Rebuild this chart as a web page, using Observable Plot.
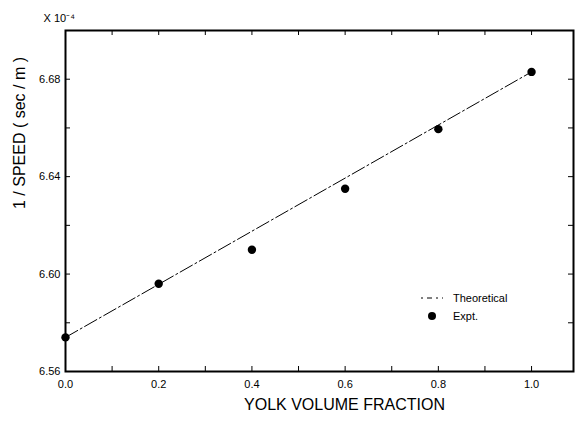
<!DOCTYPE html>
<html>
<head>
<meta charset="utf-8">
<script src="https://cdn.jsdelivr.net/npm/d3@7"></script>
<script src="https://cdn.jsdelivr.net/npm/@observablehq/plot@0.6"></script>
<style>
  html, body { margin: 0; padding: 0; background: #fff; }
  svg { font-family: "Liberation Sans", Arial, sans-serif; }
</style>
</head>
<body>
<div id="chart"></div>
<script>
const exptX = [0.0, 0.2, 0.4, 0.6, 0.8, 1.0];
const exptY = [6.574, 6.596, 6.610, 6.635, 6.6595, 6.683];
// Theoretical line (end points)
const theoX = [0.0, 1.0];
const theoY = [6.574, 6.683];
// Axis domains and ticks
const xDomain = [0, 1.09];
const yDomain = [6.56, 6.70];
const xTicks = [0, 0.1, 0.2, 0.3, 0.4, 0.5, 0.6, 0.7, 0.8, 0.9, 1.0];
const xLabelTicks = [0, 0.2, 0.4, 0.6, 0.8, 1.0];
const yTicks = [6.56, 6.58, 6.60, 6.62, 6.64, 6.66, 6.68, 6.70];
const yLabelTicks = [6.56, 6.60, 6.64, 6.68];
const legendNames = ["Theoretical", "Expt."];

const expt = exptX.map((x, i) => ({x, y: exptY[i]}));
const theo = theoX.map((x, i) => ({x, y: theoY[i]}));
const ink = "#000";

const W = 578, H = 424, mL = 65, mR = 5, mT = 30, mB = 53;
const plotW = W - mL - mR, plotH = H - mT - mB, tk = 5;

const chart = Plot.plot({
  width: W,
  height: H,
  marginLeft: mL,
  marginRight: mR,
  marginTop: mT,
  marginBottom: mB,
  style: {fontFamily: "'Liberation Sans', Arial, sans-serif", color: ink, background: "#fff"},
  x: {domain: xDomain, axis: null},
  y: {domain: yDomain, axis: null},
  marks: [
    // frame
    Plot.frame({stroke: ink, strokeWidth: 2}),
    // inward tick marks on all four sides
    Plot.tickX(xTicks, {x: d => d, insetTop: plotH - tk, stroke: ink}),
    Plot.tickX(xTicks, {x: d => d, insetBottom: plotH - tk, stroke: ink}),
    Plot.tickY(yTicks, {y: d => d, insetRight: plotW - tk, stroke: ink}),
    Plot.tickY(yTicks, {y: d => d, insetLeft: plotW - tk, stroke: ink}),
    // tick labels
    Plot.text(xLabelTicks, {x: d => d, frameAnchor: "bottom", dy: 16, text: d => d.toFixed(1), fontSize: 11, fill: ink}),
    Plot.text(yLabelTicks, {y: d => d, frameAnchor: "left", dx: -5, textAnchor: "end", text: d => d.toFixed(2), fontSize: 11, fill: ink}),
    // axis titles
    Plot.text(["YOLK VOLUME FRACTION"], {frameAnchor: "bottom", dy: 38, dx: 25, fontSize: 16, fill: ink}),
    Plot.text(["1 / SPEED ( sec / m )"], {frameAnchor: "left", rotate: -90, dx: -46, dy: 8, fontSize: 16, fill: ink}),
    Plot.text(["X 10⁻⁴"], {frameAnchor: "top-left", dx: -22, dy: -16, fontSize: 11, fill: ink}),
    // data
    Plot.line(theo, {x: "x", y: "y", stroke: ink, strokeWidth: 1, strokeDasharray: "14,3,2,3"}),
    Plot.dot(expt, {x: "x", y: "y", r: 4.2, fill: ink, stroke: "none"})
  ]
});

// legend (inside plot area)
const svg = d3.select(chart);
const lg = svg.append("g")
  .attr("font-family", "'Liberation Sans', Arial, sans-serif")
  .attr("font-size", 11)
  .attr("text-anchor", "start")
  .attr("fill", ink);
lg.append("line").attr("x1", 421).attr("x2", 443).attr("y1", 298).attr("y2", 298)
  .attr("stroke", ink).attr("stroke-width", 1).attr("stroke-dasharray", "2,4,5,4");
lg.append("text").attr("x", 453).attr("y", 298).attr("dy", "0.35em").attr("text-anchor", "start").text(legendNames[0]);
lg.append("circle").attr("cx", 432).attr("cy", 316).attr("r", 4).attr("fill", ink);
lg.append("text").attr("x", 453).attr("y", 316).attr("dy", "0.35em").attr("text-anchor", "start").text(legendNames[1]);

document.getElementById("chart").appendChild(chart);
</script>
</body>
</html>
